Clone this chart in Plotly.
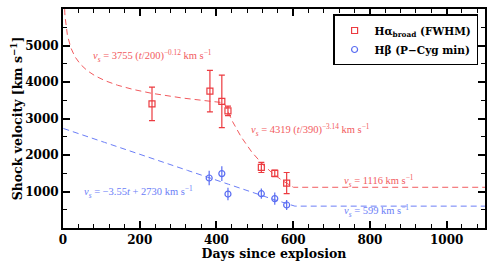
import numpy as np
import plotly.graph_objects as go

# Data
ha_days = [232, 383, 414, 430, 517, 552, 583]
ha_vel = [3400, 3750, 3470, 3210, 1660, 1495, 1230]
ha_err = [460, 570, 720, 130, 140, 90, 290]

hb_days = [381, 414, 430, 517, 552, 583]
hb_vel = [1370, 1490, 930, 940, 805, 630]
hb_err = [200, 200, 170, 140, 170, 140]

x_ticks = [0, 200, 400, 600, 800, 1000]
y_ticks = [1000, 2000, 3000, 4000, 5000]

# Fit parameters (as printed on the chart)
red_a, red_t1, red_p1 = 3755, 200, -0.12
red_b, red_t2, red_p2 = 4319, 390, -3.14
red_floor = 1116
blue_slope, blue_icpt, blue_floor = -3.55, 2730, 599

RED = "#ec3b40"
RED_L = "#f25a5e"
BLUE = "#5a6df2"
BLUE_L = "#6b7ef7"

t = np.linspace(1, 1100, 1500)
p1 = red_a * (t / red_t1) ** red_p1
p2 = red_b * (t / red_t2) ** red_p2
red_fit = np.where(p1 < p2, p1, np.maximum(p2, red_floor))
blue_fit = np.maximum(blue_slope * t + blue_icpt, blue_floor)

fig = go.Figure()
fig.add_trace(go.Scatter(x=t, y=red_fit, mode="lines", showlegend=False,
                         line=dict(color=RED_L, width=1, dash="6px,4px"), hoverinfo="skip"))
fig.add_trace(go.Scatter(x=t, y=blue_fit, mode="lines", showlegend=False,
                         line=dict(color=BLUE_L, width=1, dash="6px,4px"), hoverinfo="skip"))

fig.add_trace(go.Scatter(
    x=ha_days, y=ha_vel, mode="markers", name="<b>Hα<sub>broad</sub> (FWHM)</b>",
    marker=dict(symbol="square-open", size=6, color=RED, line=dict(width=1.2, color=RED)),
    error_y=dict(type="data", array=ha_err, color=RED, thickness=1.2, width=3)))
fig.add_trace(go.Scatter(
    x=hb_days, y=hb_vel, mode="markers", name="<b>Hβ (P−Cyg min)</b>",
    marker=dict(symbol="circle-open", size=6, color=BLUE, line=dict(width=1.2, color=BLUE)),
    error_y=dict(type="data", array=hb_err, color=BLUE, thickness=1.2, width=0)))

L, R, T, B = 63, 6, 9, 33
W, H = 491, 261
PW, PH = W - L - R, H - T - B

afont = dict(family="Liberation Serif", size=10.5)
ann = [
    (152, 56, "<i>v<sub>s</sub></i> = 3755 (<i>t</i>/200)<sup>−0.12</sup> km s<sup>−1</sup>", RED_L),
    (310, 130, "<i>v<sub>s</sub></i> = 4319 (<i>t</i>/390)<sup>−3.14</sup> km s<sup>−1</sup>", RED_L),
    (379, 181, "<i>v<sub>s</sub></i> = 1116 km s<sup>−1</sup>", RED_L),
    (376, 211, "<i>v<sub>s</sub></i> = 599 km s<sup>−1</sup>", BLUE_L),
    (138, 192, "<i>v<sub>s</sub></i> = −3.55<i>t</i> + 2730 km s<sup>−1</sup>", BLUE_L),
]
for px, py, txt, col in ann:
    fig.add_annotation(x=(px - L) / PW, y=(H - B - py) / PH, xref="paper", yref="paper",
                       text=txt, showarrow=False, font=dict(color=col, **afont),
                       xanchor="center", yanchor="middle")

tickfont = dict(family="DejaVu Serif", size=12, color="black")
common = dict(showline=True, linecolor="black", linewidth=2, mirror="allticks",
              ticks="inside", ticklen=7, tickwidth=1.5, tickcolor="black",
              showgrid=False, zeroline=False, tickfont=tickfont, automargin=False)
fig.update_xaxes(range=[0, 1100], tickvals=x_ticks,
                 ticktext=[f"<b>{v}</b>" for v in x_ticks],
                 minor=dict(ticks="inside", ticklen=4, tickwidth=1.2, dtick=40, tick0=0,
                            tickcolor="black"),
                 title=dict(text="<b>Days since explosion</b>", standoff=0,
                            font=dict(family="DejaVu Serif", size=12.5, color="black")),
                 **common)
fig.update_yaxes(range=[0, 6000], tickvals=y_ticks,
                 ticktext=[f"<b>{v}</b>" for v in y_ticks],
                 minor=dict(ticks="inside", ticklen=4, tickwidth=1.2, dtick=500, tick0=0,
                            tickcolor="black"),
                 title=dict(text="<b>Shock velocity [km s<sup>−1</sup>]</b>", standoff=0,
                            font=dict(family="DejaVu Serif", size=12.5, color="black")),
                 **common)

fig.update_layout(
    width=W, height=H,
    margin=dict(l=L, r=R, t=T, b=B),
    plot_bgcolor="white", paper_bgcolor="white",
    legend=dict(x=0.64, y=0.975, xanchor="left", yanchor="top",
                bordercolor="black", borderwidth=1.5, bgcolor="white",
                font=dict(family="DejaVu Serif", size=10.5, color="black"),
                tracegroupgap=2, itemwidth=30),
)

fig.write_html("out.html", config={"displayModeBar": False},
               post_script="document.body.style.margin='0';")
